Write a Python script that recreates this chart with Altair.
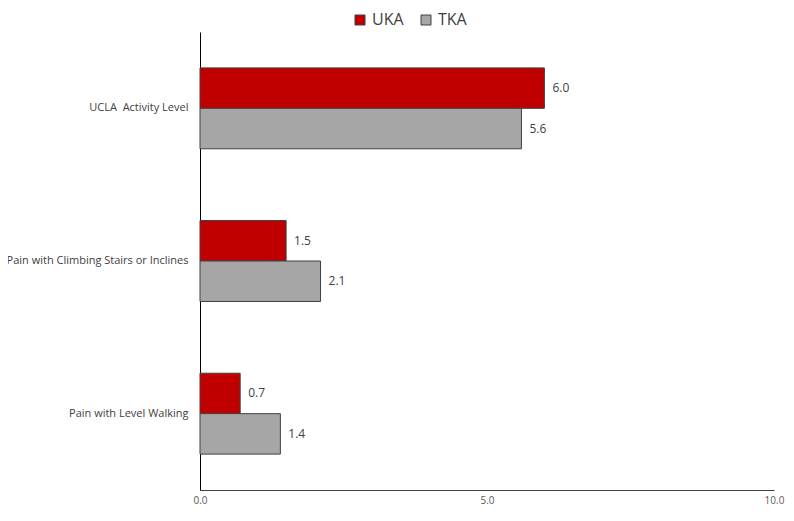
import altair as alt
import pandas as pd

categories = ["UCLA\u00a0 Activity Level", "Pain with Climbing Stairs or Inclines", "Pain with Level Walking"]
series = ["UKA", "TKA"]
uka_values = [6.0, 1.5, 0.7]
tka_values = [5.6, 2.1, 1.4]
colors = ["#C00000", "#A6A6A6"]

rows = []
for c, u, t in zip(categories, uka_values, tka_values):
    rows.append({"category": c, "group": "UKA", "value": u})
    rows.append({"category": c, "group": "TKA", "value": t})
df = pd.DataFrame(rows)

FONT = "Open Sans"

y_enc = alt.Y("category:N", sort=categories, title=None,
              scale=alt.Scale(paddingInner=0.47, paddingOuter=0.235),
              axis=alt.Axis(labelFontSize=11, labelColor="#404040", labelFont=FONT,
                            labelPadding=12, ticks=False, domainColor="#000000",
                            labelLimit=300))
x_enc = alt.X("value:Q", title=None,
              scale=alt.Scale(domain=[0, 10], nice=False),
              axis=alt.Axis(values=[0, 5, 10], format=".1f", grid=False, ticks=False,
                            labelFlush=False,
                            labelFontSize=10, labelColor="#595959", labelFont=FONT,
                            labelPadding=5, domainColor="#404040"))
yoff = alt.YOffset("group:N", sort=series)

bars = alt.Chart(df).mark_bar(stroke="#404040", strokeWidth=1).encode(
    y=y_enc, x=x_enc, yOffset=yoff,
    color=alt.Color("group:N", sort=series, title=None,
                    scale=alt.Scale(domain=series, range=colors),
                    legend=alt.Legend(orient="none", legendX=152, legendY=-20,
                                      direction="horizontal", symbolType="square",
                                      symbolSize=100, symbolStrokeColor="#404040",
                                      symbolStrokeWidth=1, labelFontSize=16,
                                      labelFont=FONT, labelColor="#404040",
                                      columnPadding=14, symbolOffset=0)),
)

labels = alt.Chart(df).mark_text(align="left", baseline="middle", dx=8,
                                 fontSize=12, font=FONT, color="#404040").encode(
    y=alt.Y("category:N", sort=categories), x="value:Q", yOffset=yoff,
    text=alt.Text("value:Q", format=".1f"),
)

chart = alt.layer(bars, labels).properties(
    width=574, height=458,
    autosize=alt.AutoSizeParams(type="none"),
    padding={"left": 192, "top": 24, "right": 12, "bottom": 18},
).configure_view(stroke=None)

chart.save("out.html", embed_options={"renderer": "svg", "actions": False})
